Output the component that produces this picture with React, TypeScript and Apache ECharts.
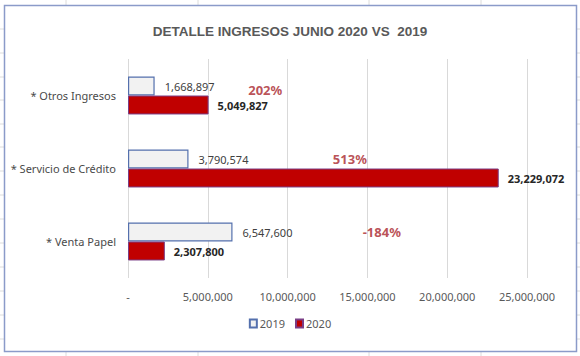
import React, { useEffect, useRef } from "react";
import * as echarts from "echarts";

const categories = ["* Otros Ingresos", "* Servicio de Crédito", "* Venta Papel"];
const values2019 = [1668897, 3790574, 6547600];
const values2020 = [5049827, 23229072, 2307800];
const pctLabels = ["202%", "513%", "-184%"];
const pctX = [8600000, 13900000, 15900000];
const xTicks = [0, 5000000, 10000000, 15000000, 20000000, 25000000];

const FONT = "'Noto Sans', sans-serif";

export default function App() {
  const ref = useRef<HTMLDivElement>(null);
  useEffect(() => {
    if (!ref.current) return;
    const chart = echarts.init(ref.current, undefined, { renderer: "svg" });
    const fmt = (v: number) => (v === 0 ? "-" : v.toLocaleString("en-US"));
    const colLines = [66, 198, 369, 481];
    const rowLines = [29, 53, 77, 100, 124, 147, 171, 195, 219, 243, 267, 291, 315, 339];
    const deco: any[] = [];
    colLines.forEach((x) => {
      deco.push({ type: "line", shape: { x1: x, y1: 0, x2: x, y2: 5 }, style: { stroke: "#dcdcdc", lineWidth: 1 } });
      deco.push({ type: "line", shape: { x1: x, y1: 352, x2: x, y2: 356 }, style: { stroke: "#dcdcdc", lineWidth: 1 } });
    });
    rowLines.forEach((y) => {
      deco.push({ type: "line", shape: { x1: 0, y1: y, x2: 4, y2: y }, style: { stroke: "#dcdcdc", lineWidth: 1 } });
      deco.push({ type: "line", shape: { x1: 577, y1: y, x2: 580, y2: y }, style: { stroke: "#dcdcdc", lineWidth: 1 } });
    });
    deco.push({
      type: "rect",
      shape: { x: 4.5, y: 5.5, width: 572, height: 346 },
      style: { fill: "none", stroke: "#8b9bc9", lineWidth: 1.5 },
    });
    chart.setOption({
      animation: false,
      backgroundColor: "#ffffff",
      title: {
        text: "DETALLE INGRESOS JUNIO 2020 VS  2019",
        left: "center",
        top: 19,
        textStyle: { fontFamily: "'Liberation Sans Narrow', 'Liberation Sans', sans-serif", fontSize: 13.5, fontWeight: "bold", color: "#595959" },
      },
      legend: {
        bottom: 22,
        left: "center",
        icon: "rect",
        itemWidth: 7,
        itemHeight: 8,
        itemGap: 10,
        data: ["2019", "2020"],
        textStyle: { fontFamily: FONT, fontSize: 11, color: "#595959", padding: [0, 0, 0, -2] },
      },
      grid: { left: 128, right: 53, top: 59, bottom: 78, containLabel: false },
      xAxis: {
        type: "value",
        min: 0,
        max: 25000000,
        interval: 5000000,
        axisLine: { show: false },
        axisTick: { show: false },
        splitLine: { show: true, lineStyle: { color: "#d9d9d9", width: 1 } },
        axisLabel: {
          margin: 13,
          fontFamily: FONT,
          fontSize: 11,
          color: "#595959",
          formatter: (v: number) => (xTicks.includes(v) ? fmt(v) : ""),
        },
      },
      yAxis: {
        type: "category",
        inverse: true,
        data: categories,
        axisLine: { show: false },
        axisTick: { show: false },
        axisLabel: { margin: 12, fontFamily: FONT, fontSize: 11, color: "#4a4a4a" },
      },
      series: [
        {
          name: "2019",
          type: "bar",
          data: values2019,
          barGap: "0%",
          barCategoryGap: "48%",
          itemStyle: { color: "#f2f2f2", borderColor: "#5470ad", borderWidth: 1.2 },
          label: {
            show: true,
            position: "right",
            distance: 10,
            fontFamily: FONT,
            fontSize: 11,
            color: "#404040",
            formatter: (p: any) => fmt(p.value),
          },
        },
        {
          name: "2020",
          type: "bar",
          data: values2020,
          itemStyle: { color: "#c00000", borderColor: "#7a3e86", borderWidth: 1 },
          label: {
            show: true,
            position: "right",
            distance: 9,
            offset: [0, 1],
            fontFamily: FONT,
            fontSize: 11,
            fontWeight: "bold",
            color: "#262626",
            formatter: (p: any) => fmt(p.value),
          },
        },
        {
          name: "pct",
          type: "scatter",
          symbolSize: 0,
          silent: true,
          data: pctX.map((x, i) => ({
            value: [x, categories[i]],
            label: { offset: [0, i === 0 ? -6 : -10] },
          })),
          label: {
            show: true,
            position: "inside",
            fontFamily: FONT,
            fontSize: 13,
            fontWeight: "bold",
            color: "#a8252b",
            formatter: (p: any) => pctLabels[p.dataIndex],
          },
        },
      ],
      graphic: deco,
    });
    return () => chart.dispose();
  }, []);
  return <div ref={ref} style={{ position: "fixed", left: 0, top: 0, width: 580, height: 356 }} />;
}
